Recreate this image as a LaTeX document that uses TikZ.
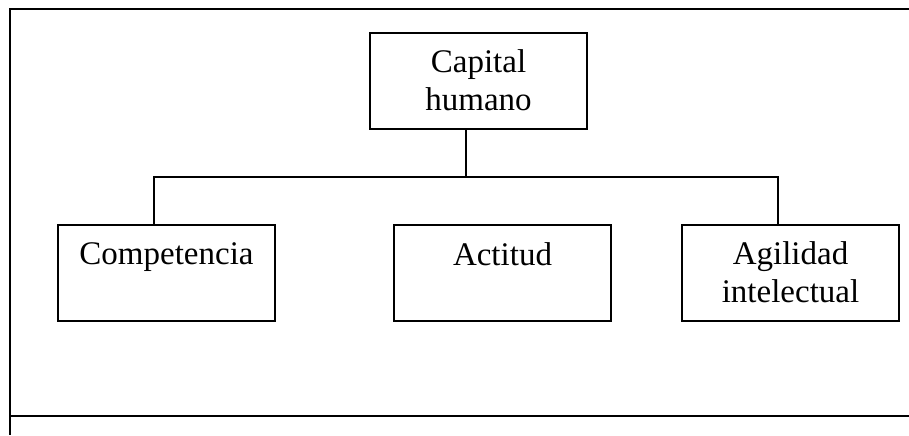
\documentclass[tikz,border=0pt]{standalone}
\usepackage{fontspec}
\setmainfont{Liberation Serif}
\usepackage{tikz}

\begin{document}
\begin{tikzpicture}[x=0.5pt,y=-0.5pt,
  unit/.style={draw,line width=1pt,minimum width=108.5pt,minimum height=48pt,
    inner sep=0pt,align=center,font=\fontsize{16.5}{18.8}\selectfont},
  link/.style={draw,line width=0.8pt},
  frame/.style={draw,line width=1pt}
]
  \useasboundingbox (0,0) rectangle (909,435);
  % outer cell
  \draw[frame] (909,8.5) -- (10,8.5) -- (10,435);
  \draw[frame] (10,416) -- (909,416);
  \node[unit] (cap) at (478.5,80.5) {Capital\\humano};
  \node[unit] (comp) at (166.5,272.5) {Competencia\\{}};
  \node[unit] (act) at (502.5,272.5) {Actitud\\{}};
  \node[unit] (agil) at (790.5,272.5) {Agilidad\\intelectual};
  \coordinate (bus) at (466,177);
  \coordinate (busl) at (154,177);
  \coordinate (busr) at (778,177);
  \draw[link] (cap.south -| bus) -- (bus);
  \draw[link] (busl |- comp.north) -- (busl) -- (busr) -- (busr |- agil.north);
\end{tikzpicture}
\end{document}
